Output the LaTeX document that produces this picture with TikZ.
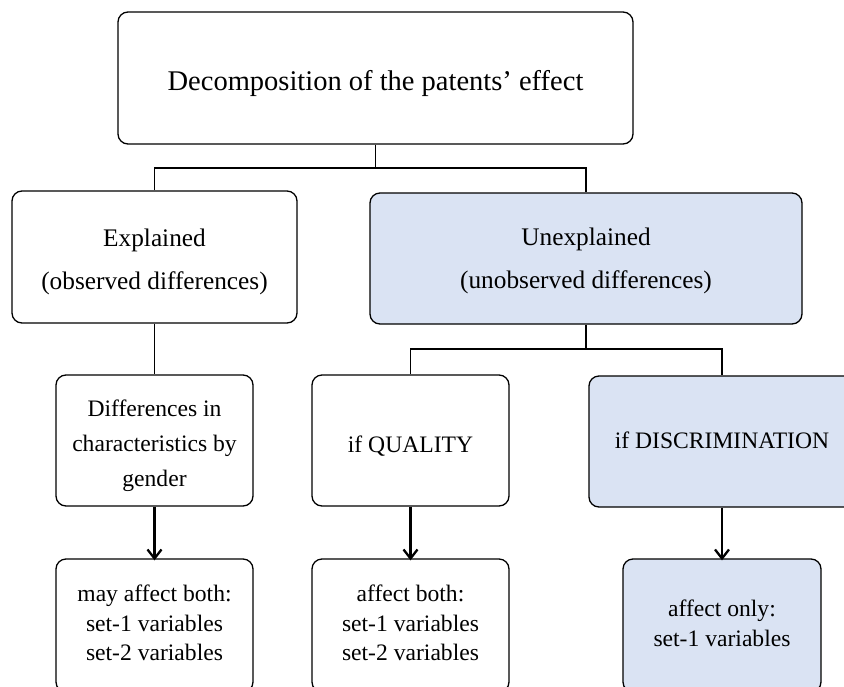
\documentclass[tikz,border=0pt]{standalone}
\usepackage{fontspec}
\setmainfont{Liberation Serif}
\usetikzlibrary{arrows.meta}
\definecolor{boxblue}{HTML}{DAE3F3}
\tikzset{
  box/.style={draw=black, line width=1.3pt, rounded corners=10pt, rectangle,
    inner sep=0pt},
  bluebox/.style={box, fill=boxblue},
  txt/.style={inner sep=0pt, align=center, text=black},
  conn/.style={draw=black, line width=1.2pt},
  arr/.style={draw=black, line width=2.3pt, -{Straight Barb[length=9pt,width=14pt,line width=2.3pt]}},
  ftop/.style={txt, font=\fontsize{28.5}{34}\selectfont},
  fmid/.style={txt, font=\fontsize{25.3}{43}\selectfont},
  flow/.style={txt, font=\fontsize{23.6}{35}\selectfont},
  fbot/.style={txt, font=\fontsize{23.6}{29.5}\selectfont},
}
\begin{document}
\begin{tikzpicture}[x=1pt,y=-1pt]
\clip (0,0) rectangle (844,686);
\useasboundingbox (0,0) rectangle (844,686);

% boxes
\node[box, minimum width=515pt, minimum height=132pt] (top) at (375.5,78) {};
\node[box, minimum width=285pt, minimum height=132pt] (expl) at (154.5,257) {};
\node[bluebox, minimum width=432pt, minimum height=131pt] (unexp) at (586,258.5) {};
\node[box, minimum width=197pt, minimum height=131pt] (diff) at (154.5,440.5) {};
\node[box, minimum width=197pt, minimum height=131pt] (qual) at (410.5,440.5) {};
\node[bluebox, minimum width=266pt, minimum height=131pt] (disc) at (722,441.5) {};
\node[box, minimum width=197pt, minimum height=133pt] (b1) at (154.5,625.5) {};
\node[box, minimum width=197pt, minimum height=133pt] (b2) at (410.5,625.5) {};
\node[bluebox, minimum width=198pt, minimum height=133pt] (b3) at (722,625.5) {};

% texts
\node[ftop] (ttop) at (375.5,83) {Decomposition of the patents' effect};
\node[fmid] (texpl) at (154.5,262) {Explained\\(observed differences)};
\node[fmid] (tunexp) at (586,261) {Unexplained\\(unobserved differences)};
\node[flow] (tdiff) at (154.5,445.5) {Differences in\\characteristics by\\gender};
\node[flow] (tqual) at (410.5,446.5) {if QUALITY};
\node[flow] (tdisc) at (722,440.5) {if DISCRIMINATION};
\node[fbot] (tb1) at (154.5,623) {may affect both:\\set-1 variables\\set-2 variables};
\node[fbot] (tb2) at (410.5,623) {affect both:\\set-1 variables\\set-2 variables};
\node[fbot] (tb3) at (722,623.5) {affect only:\\set-1 variables};

\coordinate (h1) at (0,168);
\coordinate (h2) at (0,349);

\draw[conn] (top.south) -- (top.south |- h1);
\draw[conn] (expl.north) |- (unexp.north |- h1) -- (unexp.north);
\draw[conn] (expl.south) -- (diff.north);
\draw[conn] (unexp.south) -- (unexp.south |- h2);
\draw[conn] (qual.north) |- (disc.north |- h2) -- (disc.north);

\draw[arr] (diff.south) -- ([yshift=-2pt]b1.north);
\draw[arr] (qual.south) -- ([yshift=-2pt]b2.north);
\draw[arr] (disc.south) -- ([yshift=-2pt]b3.north);
\end{tikzpicture}
\end{document}
